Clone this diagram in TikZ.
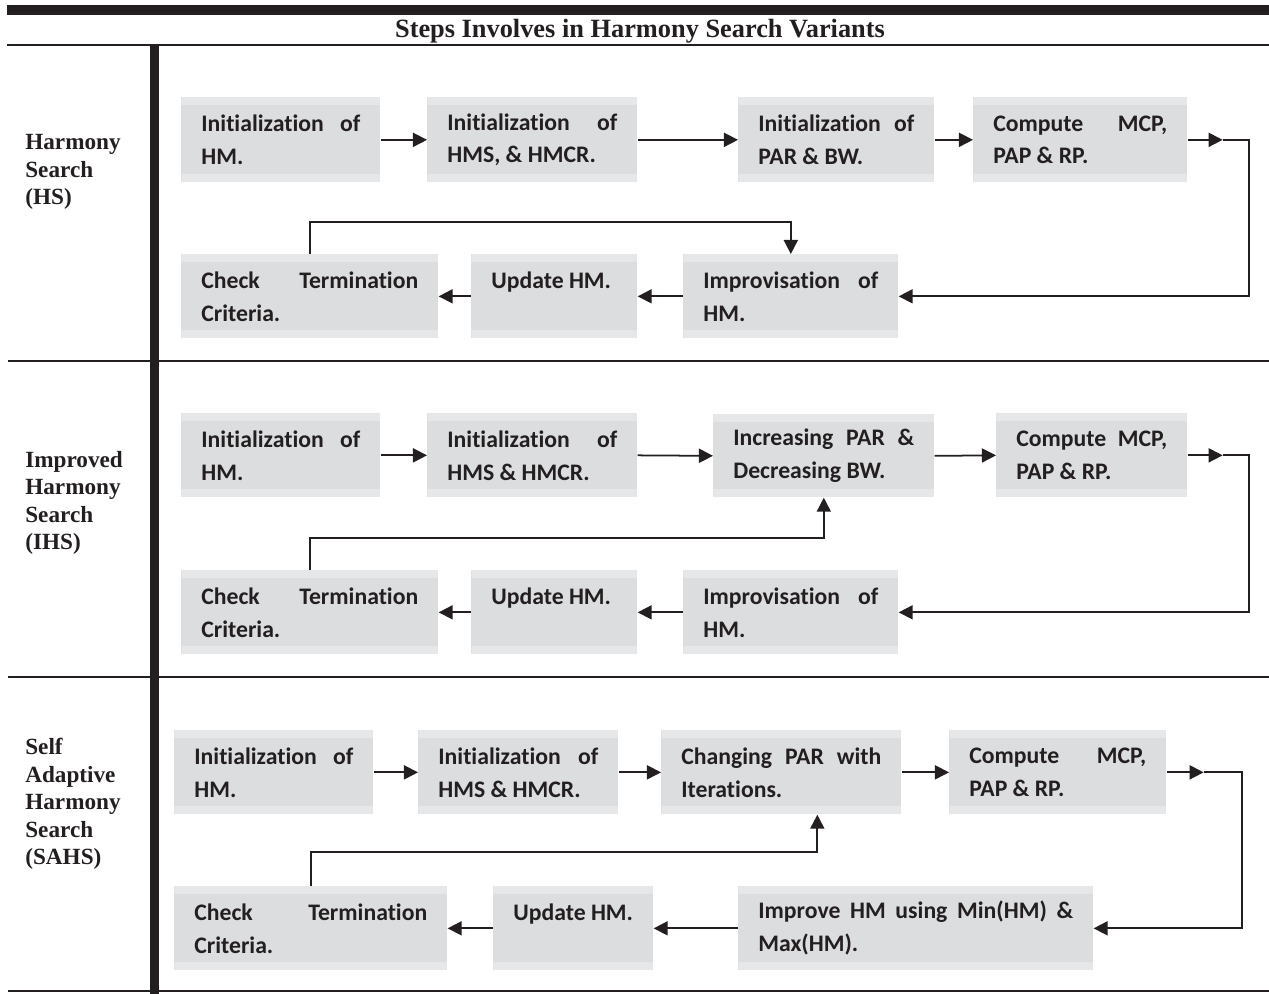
\documentclass[tikz,border=0pt]{standalone}
\usepackage{fontspec}
\setmainfont{Liberation Serif}
\newfontfamily\boxfont[Ligatures=NoCommon]{Carlito}
\usetikzlibrary{positioning,arrows.meta,calc}
\definecolor{ink}{RGB}{35,31,32}
\definecolor{boxgray}{RGB}{220,221,223}
\definecolor{boxband}{RGB}{230,231,232}
\setlength\parindent{0pt}
\hyphenpenalty=10000

\begin{document}
\begin{tikzpicture}[x=0.02cm, y=-0.02cm,
  stage/.style={fill=boxgray, text=ink, anchor=north west, text width=#1,
    align=justify, inner xsep=0.4cm, minimum height=1.68cm,
    font=\boxfont\bfseries\fontsize{13.5}{18.7}\selectfont,
    path picture={
      \fill[boxband] (path picture bounding box.north west) rectangle ([yshift=-0.16cm]path picture bounding box.north east);
      \fill[boxband] (path picture bounding box.south west) rectangle ([yshift=0.16cm]path picture bounding box.south east);
    }},
  variant/.style={anchor=west, align=left, inner sep=0pt, text=ink,
    font=\bfseries\fontsize{13.2}{15.6}\selectfont},
  flow/.style={draw=ink, line width=1pt, -{Triangle[length=8pt,width=8pt]}}]
\useasboundingbox (0,0) rectangle (1269,994);
% Frame
\fill[ink] (7,5) rectangle (1269,15);
\node[font=\bfseries\fontsize{15}{18}\selectfont, text=ink] (title) at (640,31) {Steps Involves in Harmony Search Variants};
\draw[ink, line width=1pt] (7,45) -- (1269,45);
\fill[ink] (150,45) rectangle (159,994);
\foreach \y in {361,677}
  \draw[ink, line width=0.9pt] (8,\y) -- (1269,\y);
\draw[ink, line width=1.6pt] (8,991) -- (1269,991);

% Variant names
\node[variant] (hs-label) at (25,172) {Harmony\\Search\\(HS)};
\node[variant] (ihs-label) at (25,503) {Improved\\Harmony\\Search\\(IHS)};
\node[variant] (sahs-label) at (25,804) {Self\\Adaptive\\Harmony\\Search\\(SAHS)};

% Harmony Search
\node[stage=3.18cm, minimum height=1.70cm] (hs1) at (181,97) {Initialization of\linebreak HM.};
\node[stage=3.40cm, minimum height=1.70cm] (hs2) at (427,97) {Initialization of\linebreak HMS, \& HMCR.};
\node[stage=3.12cm, minimum height=1.70cm] (hs3) at (738,97) {Initialization of\linebreak PAR \& BW.};
\node[stage=3.48cm, minimum height=1.70cm] (hs4) at (973,97) {Compute MCP,\linebreak PAP \& RP.};
\node[stage=4.34cm] (hs7) at (181,254) {Check Termination\linebreak Criteria.};
\node[stage=2.52cm] (hs6) at (471,254) {\mbox{Update HM.}\newline\mbox{}};
\node[stage=3.50cm] (hs5) at (683,254) {Improvisation of\linebreak HM.};
\draw[flow] (hs1.east) -- (hs2.west);
\draw[flow] (hs2.east) -- (hs3.west);
\draw[flow] (hs3.east) -- (hs4.west);
\draw[flow] (hs4.east) -- ++(35,0) coordinate (hs-turn);
\draw[flow] (hs-turn) -- ++(26,0) |- (hs5.east);
\draw[flow] (hs5.west) -- (hs6.east);
\draw[flow] (hs6.west) -- (hs7.east);
\draw[flow] (hs7.north) -- ++(0,-32) -| (hs5.north);

% Improved Harmony Search
\node[stage=3.18cm] (ihs1) at (181,413) {Initialization of\linebreak HM.};
\node[stage=3.40cm] (ihs2) at (427,413) {Initialization of\linebreak HMS \& HMCR.};
\node[stage=3.62cm, minimum height=1.66cm] (ihs3) at (713,414) {Increasing PAR \&\linebreak Decreasing BW.};
\node[stage=3.02cm] (ihs4) at (996,413) {Compute MCP,\linebreak PAP \& RP.};
\node[stage=4.34cm] (ihs7) at (181,570) {Check Termination\linebreak Criteria.};
\node[stage=2.52cm] (ihs6) at (471,570) {\mbox{Update HM.}\newline\mbox{}};
\node[stage=3.50cm] (ihs5) at (683,570) {Improvisation of\linebreak HM.};
\draw[flow] (ihs1.east) -- (ihs2.west);
\draw[flow] (ihs2.east) -- (ihs3.west);
\draw[flow] (ihs3.east) -- (ihs4.west);
\draw[flow] (ihs4.east) -- ++(35,0) coordinate (ihs-turn);
\draw[flow] (ihs-turn) -- ++(26,0) |- (ihs5.east);
\draw[flow] (ihs5.west) -- (ihs6.east);
\draw[flow] (ihs6.west) -- (ihs7.east);
\draw[flow] (ihs7.north) -- ++(0,-32) -| (ihs3.south);

% Self Adaptive Harmony Search
\node[stage=3.18cm] (sahs1) at (174,730) {Initialization of\linebreak HM.};
\node[stage=3.20cm] (sahs2) at (418,730) {Initialization of\linebreak HMS \& HMCR.};
\node[stage=4.00cm] (sahs3) at (661,730) {Changing PAR with\linebreak Iterations.};
\node[stage=3.54cm] (sahs4) at (949,730) {Compute MCP,\linebreak PAP \& RP.};
\node[stage=4.66cm] (sahs7) at (174,886) {Check Termination\linebreak Criteria.};
\node[stage=2.40cm] (sahs6) at (493,886) {\mbox{Update HM.}\newline\mbox{}};
\node[stage=6.30cm] (sahs5) at (738,886) {Improve HM using Min(HM) \&\linebreak Max(HM).};
\draw[flow] (sahs1.east) -- (sahs2.west);
\draw[flow] (sahs2.east) -- (sahs3.west);
\draw[flow] (sahs3.east) -- (sahs4.west);
\draw[flow] (sahs4.east) -- ++(37,0) coordinate (sahs-turn);
\draw[flow] (sahs-turn) -- ++(38,0) |- (sahs5.east);
\draw[flow] (sahs5.west) -- (sahs6.east);
\draw[flow] (sahs6.west) -- (sahs7.east);
\draw[flow] (sahs7.north) -- ++(0,-34) -| ([xshift=0.72cm]sahs3.south);
\end{tikzpicture}
\end{document}
